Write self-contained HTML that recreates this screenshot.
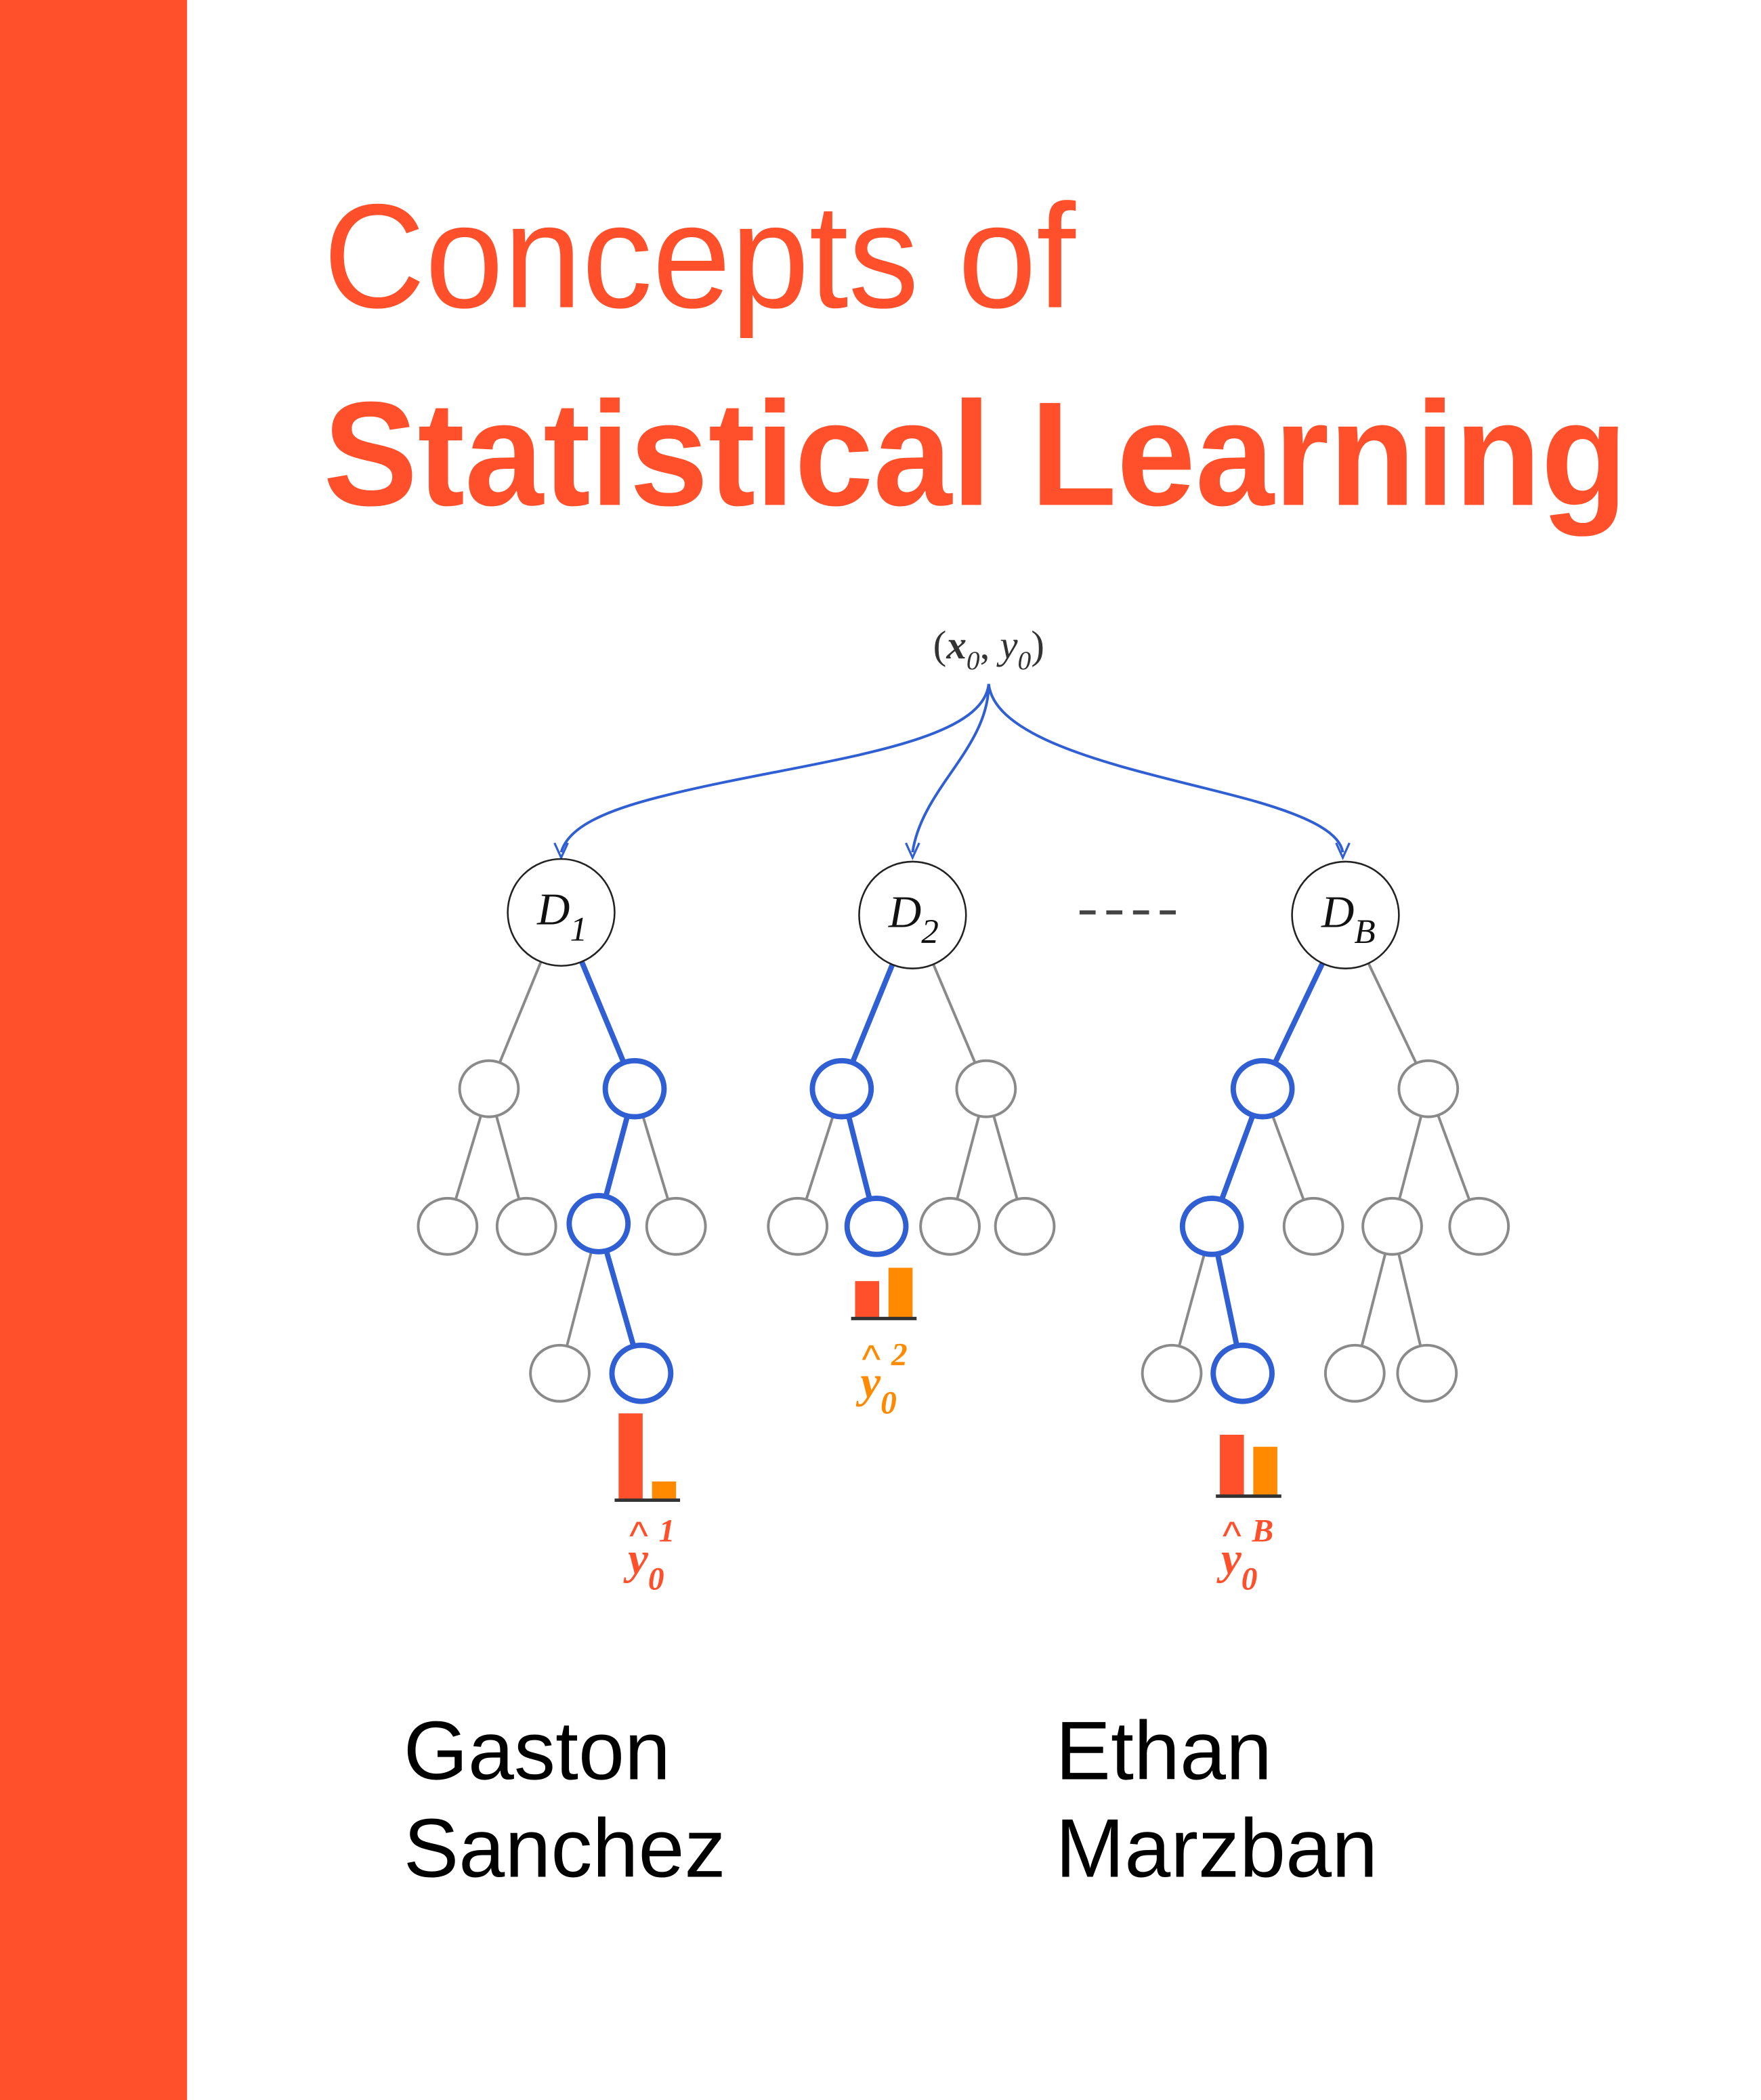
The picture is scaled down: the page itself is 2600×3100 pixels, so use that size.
<!DOCTYPE html>
<html><head><meta charset="utf-8"><style>
html,body{margin:0;padding:0;background:#fff}
svg{display:block}
</style></head><body>
<svg id="cover" width="2600" height="3100" viewBox="0 0 1318 1572" preserveAspectRatio="none" xmlns="http://www.w3.org/2000/svg">
<rect x="0" y="0" width="1318" height="1572" fill="#fff"/>
<rect x="0" y="0" width="140" height="1572" fill="#FF4F2B"/>
<text x="242" y="230" font-family="Liberation Sans, sans-serif" font-size="111" fill="#FF4F2B" textLength="563" lengthAdjust="spacingAndGlyphs">Concepts of</text>
<text x="242" y="378" font-family="Liberation Sans, sans-serif" font-weight="bold" font-size="111" fill="#FF4F2B" textLength="976" lengthAdjust="spacingAndGlyphs">Statistical Learning</text>
<g font-family="Liberation Sans, sans-serif" font-size="62" fill="#000">
<text x="302" y="1332">Gaston</text>
<text x="302" y="1405">Sanchez</text>
<text x="790" y="1332">Ethan</text>
<text x="790" y="1405">Marzban</text>
</g>
<g id="diagram"></g>
</svg>
<script>
// node data: [x, y, highlighted]
const treeNodes1 = [[366,815,0],[475,815,1],[335,918,0],[394,918,0],[448,916,1],[506,918,0],[419,1028,0],[480,1028,1]];
const treeEdges1 = [[-1,0],[-1,1],[0,2],[0,3],[1,4],[1,5],[4,6],[4,7]];
const treeNodes2 = [[630,815,1],[738,815,0],[597,918,0],[656,918,1],[711,918,0],[767,918,0]];
const treeEdges2 = [[-1,0],[-1,1],[0,2],[0,3],[1,4],[1,5]];
const treeNodesB = [[945,815,1],[1069,815,0],[907,918,1],[983,918,0],[1042,918,0],[1107,918,0],[877,1028,0],[930,1028,1],[1014,1028,0],[1068,1028,0]];
const treeEdgesB = [[-1,0],[-1,1],[0,2],[0,3],[1,4],[1,5],[2,6],[2,7],[4,8],[4,9]];
const rootNames = ["1","2","B"];
const voteRed = [64, 27, 45];
const voteOrange = [13, 37, 36];

const NS = "http://www.w3.org/2000/svg";
const g = document.getElementById("diagram");
function el(tag, attrs, parent){const e=document.createElementNS(NS,tag);for(const k in attrs)e.setAttribute(k,attrs[k]);(parent||g).appendChild(e);return e;}
const BLUE="#2F5FD3", GRAY="#8a8a8a";
const roots=[[420,683],[683,685],[1007,685]];
const barX=[463,640,913], barBase=[1122,986,1119];
const labelPos=[[482,1178],[656,1046],[926,1178]];
const labelColor=["#FF4F2B","#FF8A00","#FF4F2B"];

const topLabel=el("text",{x:740,y:493,"text-anchor":"middle","font-family":"Liberation Serif, serif","font-size":"30",fill:"#333"});


topLabel.innerHTML='(<tspan font-weight="bold" font-style="italic">x</tspan><tspan font-style="italic" font-size="20" dy="8">0</tspan><tspan dy="-8">, </tspan><tspan font-style="italic">y</tspan><tspan font-style="italic" font-size="20" dy="8">0</tspan><tspan dy="-8">)</tspan>';

const arrowD=["M740,512 C735,560 600,570 500,595 C450,607 425,620 420,638","M740,512 C740,560 690,590 683,638","M740,512 C745,560 870,580 940,600 C985,613 1003,625 1005,638"];
const arrowTips=[[420,642],[683,642],[1005,642]];
arrowD.forEach((d,i)=>{
  const p=el("path",{d:d,fill:"none",stroke:BLUE,"stroke-width":"2"});
  
  
  const t=arrowTips[i];
  const h=el("path",{d:`M${t[0]-5},${t[1]-11} L${t[0]},${t[1]} L${t[0]+5},${t[1]-11}`,fill:"none",stroke:BLUE,"stroke-width":"1.6"});
  
  
});
const dash=el("line",{x1:808,y1:683,x2:882,y2:683,stroke:"#444","stroke-width":"3","stroke-dasharray":"12,8"});



const trees=[[treeNodes1,treeEdges1],[treeNodes2,treeEdges2],[treeNodesB,treeEdgesB]];
trees.forEach(([nodes,edges],ti)=>{
  const r=roots[ti];
  const pt=i=>i<0?[r[0],r[1],1]:nodes[i];
  edges.forEach(([a,b])=>{
    const A=pt(a),B=nodes[b];
    const hl=B[2]&&(a<0||A[2]);
    const ra=a<0?40:21;
    const dx=B[0]-A[0],dy=B[1]-A[1],L=Math.hypot(dx,dy);
    const ln=el("line",{x1:A[0]+dx/L*ra,y1:A[1]+dy/L*ra,x2:B[0]-dx/L*21,y2:B[1]-dy/L*21,stroke:hl?BLUE:GRAY,"stroke-width":hl?4:2});
    
    
  });
  nodes.forEach(n=>{
    const c=el("ellipse",{cx:n[0],cy:n[1],rx:22,ry:21,fill:"#fff",stroke:n[2]?BLUE:GRAY,"stroke-width":n[2]?4:2});
    
    
  });
  const rc=el("circle",{cx:r[0],cy:r[1],r:40,fill:"#fff",stroke:"#222","stroke-width":"1.3"});
  
  
  const rt=el("text",{x:r[0]-18,y:r[1]+9,"font-family":"Liberation Serif, serif","font-style":"italic","font-size":"34",fill:"#111"});
  
  
  rt.innerHTML='D<tspan font-size="26" dy="12">'+rootNames[ti]+'</tspan>';
  const bx=barX[ti],by=barBase[ti];
  const b1=el("rect",{x:bx,y:by-voteRed[ti],width:18,height:voteRed[ti],fill:"#FF4F2B"});
  
  
  const b2=el("rect",{x:bx+25,y:by-voteOrange[ti],width:18,height:voteOrange[ti],fill:"#FF8A00"});
  
  
  const bl=el("line",{x1:bx-3,y1:by+1,x2:bx+46,y2:by+1,stroke:"#333","stroke-width":"2.5"});
  
  
  const lp=labelPos[ti],col=labelColor[ti];
  const lt=el("text",{x:lp[0]-12,y:lp[1],"font-family":"Liberation Serif, serif","font-style":"italic","font-weight":"bold","font-size":"34",fill:col});
  
  
  lt.innerHTML='y<tspan font-size="24" dy="12">0</tspan><tspan font-size="24" dx="-4" dy="-36">'+rootNames[ti]+'</tspan>';
  const hat=el("text",{x:lp[0]-11,y:lp[1]-18,"font-family":"Liberation Sans, sans-serif","font-size":"30",fill:col});
  
  
  hat.textContent='^';
});
</script>
</body></html>
